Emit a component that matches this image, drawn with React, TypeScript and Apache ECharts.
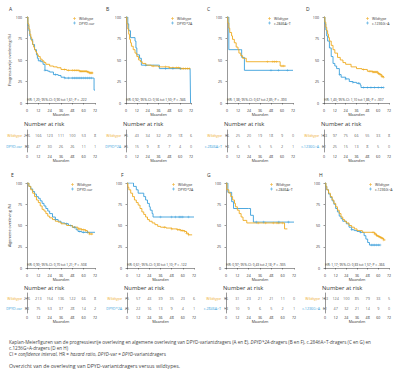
import React, { useEffect, useRef } from "react";
import * as echarts from "echarts";

const monthTicks = [0, 12, 24, 36, 48, 60, 72];

// Panel A – PFS, DPYD-var
const aWild = [[0,100],[1,92],[2,86],[3,80],[4,76],[5,72],[6,68],[7,65],[8,62],[9,60],[10,58],[11,56],[12,54],[14,51],[16,49],[18,47],[20,45],[24,43],[28,42],[32,41],[36,39],[42,38],[48,38],[56,37],[60,37],[64,36],[66,35],[70,35]];
const aVar = [[0,100],[1,90],[2,84],[3,78],[4,74],[6,68],[8,62],[10,56],[11,52],[12,49],[15,48],[17,45],[19,38],[22,37],[24,36],[28,33],[33,32],[36,30],[40,29],[60,29],[70,29],[71,15],[72,15]];
const aWildCens = [40,44,48,50,52,54,56,57,58,59,60,61,62,63,64,65,66,67,68,69];
const aVarCens = [14,19,30,40,44,48,50,52,54,56,58,60,62,64,66,68];
const aRiskWild = [276,166,123,111,100,53,8];
const aRiskVar = [83,47,30,26,26,11,1];

// Panel B – PFS, DPYD*2A
const bWild = [[0,100],[1,92],[2,86],[3,80],[4,74],[5,70],[6,66],[8,62],[10,58],[12,54],[14,50],[16,48],[18,46],[22,44],[28,43],[36,42],[48,41],[60,40],[66,40],[71,40]];
const bVar = [[0,100],[2,92],[3,84],[5,76],[10,72],[11,64],[12,56],[15,52],[17,44],[36,44],[37,40],[71,40],[71.5,0]];
const bWildCens = [30,44,48,52,56,58,60,62,64,66,68,70];
const bVarCens = [22,44,52,60];
const bRiskWild = [75,43,34,32,29,18,6];
const bRiskVar = [25,15,9,8,7,4,0];

// Panel C – PFS, c.2846A>T
const cWild = [[0,100],[1,93],[2,87],[3,82],[5,78],[6,74],[8,70],[10,65],[12,62],[13,58],[15,55],[17,52],[21,48],[56,48],[58,43],[64,43]];
const cVar = [[0,100],[2,62],[15,62],[16,53],[19,38],[72,38]];
const cWildCens = [44,50,52,54,60,62];
const cVarCens = [48,56,66];
const cRiskWild = [36,25,20,19,18,9,0];
const cRiskVar = [13,6,5,5,5,2,1];

// Panel D – PFS, c.1236G>A
const dWild = [[0,100],[1,94],[2,88],[3,84],[4,80],[5,76],[6,72],[8,67],[10,62],[12,58],[15,53],[18,50],[21,47],[24,45],[30,42],[36,40],[42,39],[48,37],[54,36],[60,34],[62,33],[64,31],[66,30]];
const dVar = [[0,100],[1,92],[2,85],[3,78],[4,72],[6,64],[8,54],[10,46],[12,43],[14,40],[17,33],[19,30],[24,28],[28,25],[32,24],[36,23],[40,21],[41,18],[66,18]];
const dWildCens = [44,50,52,54,55,56,57,58,59,60,61,62,63,64,65,66];
const dVarCens = [17,24,32,38,44,48,52,56,60,64,66];
const dRiskWild = [163,97,75,66,55,33,8];
const dRiskVar = [61,25,15,13,8,5,0];

// Panel E – OS, DPYD-var
const eWild = [[0,100],[2,96],[4,92],[6,88],[8,84],[10,80],[12,77],[14,73],[16,69],[18,67],[20,64],[22,61],[24,59],[27,57],[30,55],[33,54],[36,52],[42,50],[48,48],[54,46],[58,45],[62,44],[64,42],[66,40],[70,40]];
const eVar = [[0,100],[2,96],[4,93],[6,90],[8,87],[10,84],[12,82],[14,79],[16,76],[18,73],[20,70],[22,67],[24,64],[27,60],[30,57],[33,55],[36,53],[40,52],[44,50],[48,48],[52,45],[54,43],[58,42],[72,42]];
const eWildCens = [50,54,56,58,60,62,64,66,68];
const eVarCens = [30,42,46,50,56,60,64];
const eRiskWild = [276,213,154,136,122,66,8];
const eRiskVar = [83,75,53,37,28,14,2];

// Panel F – OS, DPYD*2A
const fWild = [[0,100],[1,95],[2,92],[4,88],[6,84],[8,80],[10,77],[12,74],[14,70],[16,66],[18,63],[20,60],[22,57],[24,55],[27,53],[30,51],[33,49],[36,48],[42,47],[48,46],[54,45],[58,44],[62,43],[64,41],[66,39],[70,39]];
const fVar = [[0,100],[6,100],[7,96],[10,92],[12,88],[16,88],[18,84],[20,80],[22,76],[24,72],[25,68],[27,64],[28,60],[72,60]];
const fWildCens = [40,48,54,56,58,60,62,64,66];
const fVarCens = [36,48,52,56,58,60,66];
const fRiskWild = [75,57,43,39,35,23,6];
const fRiskVar = [25,22,16,13,9,4,1];

// Panel G – OS, c.2846A>T
const gWild = [[0,100],[1,92],[3,88],[5,84],[7,80],[9,76],[10,72],[12,68],[14,64],[16,60],[18,56],[22,53],[60,53],[62,46],[65,46]];
const gVar = [[0,100],[2,89],[6,78],[8,70],[24,70],[26,62],[29,54],[72,54]];
const gWildCens = [34,42,50,54,56,60];
const gVarCens = [32,40,56,66];
const gRiskWild = [36,31,23,21,21,11,0];
const gRiskVar = [13,10,9,6,5,2,1];

// Panel H – OS, c.1236G>A
const hWild = [[0,100],[1,96],[2,92],[4,88],[6,84],[8,80],[10,76],[12,72],[14,68],[16,64],[18,60],[20,57],[22,55],[24,53],[27,50],[30,48],[33,46],[36,44],[42,42],[54,42],[56,40],[58,38],[60,37],[62,36],[64,35],[66,33],[68,33]];
const hVar = [[0,100],[1,96],[2,92],[4,87],[6,83],[8,79],[10,75],[12,70],[14,66],[16,61],[18,58],[20,55],[24,52],[27,48],[30,45],[33,44],[36,43],[40,42],[44,38],[46,34],[48,30],[50,27],[62,27]];
const hWildCens = [54,56,57,58,59,60,61,62,63,64,65,66];
const hVarCens = [30,40,52,54,56,58,60,62];
const hRiskWild = [163,124,100,85,79,33,5];
const hRiskVar = [61,47,32,21,14,9,0];

const letters = ["A","B","C","D","E","F","G","H"];
const varNames = ["DPYD-var","DPYD*2A","c.2846A>T","c.1236G>A","DPYD-var","DPYD*2A","c.2846A>T","c.1236G>A"];
const hrTexts = [
  "HR: 1,20; 95%-CI: 0,90 tot 1,61; P = .222",
  "HR: 0,92; 95%-CI: 0,56 tot 1,50; P = .946",
  "HR: 1,38; 95%-CI: 0,67 tot 2,85; P = .393",
  "HR: 1,43; 95%-CI: 1,10 tot 1,86; P = .007",
  "HR: 0,90; 95%-CI: 0,70 tot 1,21; P = .508",
  "HR: 0,61; 95%-CI: 0,30 tot 1,10; P = .122",
  "HR: 0,97; 95%-CI: 0,43 tot 2,18; P = .935",
  "HR: 1,17; 95%-CI: 0,83 tot 1,57; P = .366",
];
const yAxisNames = ["Progressievrije overleving (%)", "Algemene overleving (%)"];

const WILD = "#eeaa1f";
const VAR = "#3a9fdb";
const AX = "#333333";
const FONT = "Open Sans";
const PLUS = "path://M-0.18,-1H0.18V-0.18H1V0.18H0.18V1H-0.18V0.18H-1V-0.18H-0.18Z";

const panels = [
  { wild: aWild, vr: aVar, wc: aWildCens, vc: aVarCens, rw: aRiskWild, rv: aRiskVar },
  { wild: bWild, vr: bVar, wc: bWildCens, vc: bVarCens, rw: bRiskWild, rv: bRiskVar },
  { wild: cWild, vr: cVar, wc: cWildCens, vc: cVarCens, rw: cRiskWild, rv: cRiskVar },
  { wild: dWild, vr: dVar, wc: dWildCens, vc: dVarCens, rw: dRiskWild, rv: dRiskVar },
  { wild: eWild, vr: eVar, wc: eWildCens, vc: eVarCens, rw: eRiskWild, rv: eRiskVar },
  { wild: fWild, vr: fVar, wc: fWildCens, vc: fVarCens, rw: fRiskWild, rv: fRiskVar },
  { wild: gWild, vr: gVar, wc: gWildCens, vc: gVarCens, rw: gRiskWild, rv: gRiskVar },
  { wild: hWild, vr: hVar, wc: hWildCens, vc: hVarCens, rw: hRiskWild, rv: hRiskVar },
];

// layout (positions only)
const plotLeft = [27, 126, 227, 324, 27, 127, 226, 325];
const plotWidth = [68, 65, 66, 65, 68, 67, 68, 64];
const letterX = [9, 106, 207, 306, 11, 121, 207, 319];
const legendX = [73, 171, 268, 366, 71, 172, 270, 369];
const rowGeom = [
  { letterY: 9, plotTop: 17, plotH: 86, hrY: 99, narY: 124, riskTop: 130, riskH: 22 },
  { letterY: 175, plotTop: 183, plotH: 85, hrY: 264, narY: 288, riskTop: 293, riskH: 20 },
];

function stepAt(curve: number[][], t: number) {
  let v = curve[0][1];
  for (const p of curve) { if (p[0] <= t) v = p[1]; else break; }
  return v;
}

function buildOption() {
  const grid: any[] = [], xAxis: any[] = [], yAxis: any[] = [], series: any[] = [], legend: any[] = [], graphic: any[] = [];
  panels.forEach((p, i) => {
    const row = rowGeom[i < 4 ? 0 : 1];
    const col = i % 4;
    const left = plotLeft[i], width = plotWidth[i];
    grid.push({ left, width, top: row.plotTop, height: row.plotH });
    grid.push({ left, width, top: row.riskTop, height: row.riskH });
    const gi = 2 * i, ri = 2 * i + 1;
    const xBase = {
      type: "value", min: 0, max: 72, interval: 12,
      axisLine: { lineStyle: { color: AX, width: 0.5 } },
      axisTick: { length: 1.5, lineStyle: { color: AX, width: 0.5 } },
      axisLabel: { fontSize: 3.6, margin: 2, color: AX, fontFamily: FONT },
      splitLine: { show: false },
      name: "Maanden", nameLocation: "middle", nameGap: 6.5,
      nameTextStyle: { fontSize: 3.8, color: AX, fontFamily: FONT },
    };
    xAxis.push({ ...xBase, gridIndex: gi, offset: 3 });
    xAxis.push({ ...xBase, gridIndex: ri, offset: 0 });
    yAxis.push({
      type: "value", gridIndex: gi, min: 0, max: 100, interval: 25, offset: 3,
      axisLine: { show: true, lineStyle: { color: AX, width: 0.5 } },
      axisTick: { show: true, length: 1.5, lineStyle: { color: AX, width: 0.5 } },
      axisLabel: { fontSize: 3.6, margin: 2, color: AX, fontFamily: FONT },
      splitLine: { show: false },
      name: col === 0 ? yAxisNames[i < 4 ? 0 : 1] : "",
      nameLocation: "middle", nameGap: 11,
      nameTextStyle: { fontSize: 3.8, color: AX, fontFamily: FONT },
    });
    yAxis.push({
      type: "category", gridIndex: ri, offset: 3,
      data: [varNames[i], "Wildtype"],
      axisLine: { show: true, lineStyle: { color: AX, width: 0.5 } },
      axisTick: { show: true, length: 1.5, alignWithLabel: true, lineStyle: { color: AX, width: 0.5 } },
      axisLabel: {
        fontSize: 3.6, margin: 2, fontFamily: FONT,
        color: (v: string) => (v === "Wildtype" ? WILD : VAR),
      },
    });
    series.push({
      type: "line", name: "Wildtype", xAxisIndex: gi, yAxisIndex: gi, step: "end",
      showSymbol: false, data: p.wild, color: WILD, lineStyle: { width: 0.9, color: WILD }, z: 3,
    });
    series.push({
      type: "line", name: varNames[i], xAxisIndex: gi, yAxisIndex: gi, step: "end",
      showSymbol: false, data: p.vr, color: VAR, lineStyle: { width: 0.9, color: VAR }, z: 2,
    });
    series.push({
      type: "scatter", name: "Wildtype gecensureerd", xAxisIndex: gi, yAxisIndex: gi,
      symbol: PLUS, symbolSize: 2.6, itemStyle: { color: WILD }, z: 4,
      data: p.wc.map((t) => [t, stepAt(p.wild, t)]),
    });
    series.push({
      type: "scatter", name: varNames[i] + " gecensureerd", xAxisIndex: gi, yAxisIndex: gi,
      symbol: PLUS, symbolSize: 2.6, itemStyle: { color: VAR }, z: 4,
      data: p.vc.map((t) => [t, stepAt(p.vr, t)]),
    });
    series.push({
      type: "scatter", name: "risk", xAxisIndex: ri, yAxisIndex: ri, symbolSize: 0,
      data: monthTicks.map((m, k) => [m, 1, p.rw[k]]).concat(monthTicks.map((m, k) => [m, 0, p.rv[k]])),
      label: { show: true, position: "inside", formatter: (q: any) => String(q.value[2]), fontSize: 3.8, color: "#333", fontFamily: FONT },
    });
    legend.push({
      data: ["Wildtype", varNames[i]], left: legendX[i], top: row.plotTop - 0.5, orient: "vertical",
      itemGap: 0.6, itemWidth: 3, itemHeight: 3, padding: 0, icon: PLUS,
      textStyle: { fontSize: 3.5, color: AX, fontFamily: FONT, padding: [0, 0, 0, -2] },
      selectedMode: false,
    });
    graphic.push({ type: "text", left: letterX[i], top: row.letterY - 3, style: { text: letters[i], fontSize: 5, fill: AX, fontFamily: FONT } });
    graphic.push({ type: "text", x: left, y: row.hrY, style: { text: hrTexts[i], fontSize: 3.3, fill: AX, fontFamily: FONT, verticalAlign: "middle" } });
    graphic.push({ type: "text", x: left - 3, y: row.narY, style: { text: "Number at risk", fontSize: 5.8, fill: AX, fontFamily: FONT, verticalAlign: "middle" } });
  });

  const capStyle = { fontSize: 4.6, fill: "#444", fontFamily: FONT, verticalAlign: "middle" };
  const it = { fontStyle: "italic", fontSize: 4.6, fill: "#444", fontFamily: FONT };
  const rg = { fontSize: 4.6, fill: "#444", fontFamily: FONT };
  graphic.push({ type: "text", x: 9, y: 342, style: { ...capStyle, text: "Kaplan-Meierfiguren van de progressievrije overleving en algemene overleving van DPYD-variantdragers (A en E), {i|DPYD*2A}-dragers (B en F), c.2846A>T-dragers (C en G) en", rich: { i: it } } });
  graphic.push({ type: "text", x: 9, y: 348, style: { ...capStyle, text: "c.1236G>A-dragers (D en H)" } });
  graphic.push({ type: "text", x: 9, y: 354, style: { ...capStyle, text: "CI = {i|confidence interval}, HR = {i|hazard ratio}, {i|DPYD}-var = {i|DPYD}-variantdragers", rich: { i: it, r: rg } } });
  graphic.push({ type: "text", x: 9, y: 366, style: { ...capStyle, fontSize: 5.2, text: "Overzicht van de overleving van DPYD-variantdragers versus wildtypes." } });

  return { animation: false, backgroundColor: "#ffffff", grid, xAxis, yAxis, series, legend, graphic };
}

export default function App() {
  const ref = useRef<HTMLDivElement>(null);
  useEffect(() => {
    if (!ref.current) return;
    const chart = echarts.init(ref.current, null, { renderer: "svg" });
    chart.setOption(buildOption() as any);
    return () => chart.dispose();
  }, []);
  return <div ref={ref} style={{ position: "absolute", left: 0, top: 0, width: 400, height: 379, background: "#fff" }} />;
}
